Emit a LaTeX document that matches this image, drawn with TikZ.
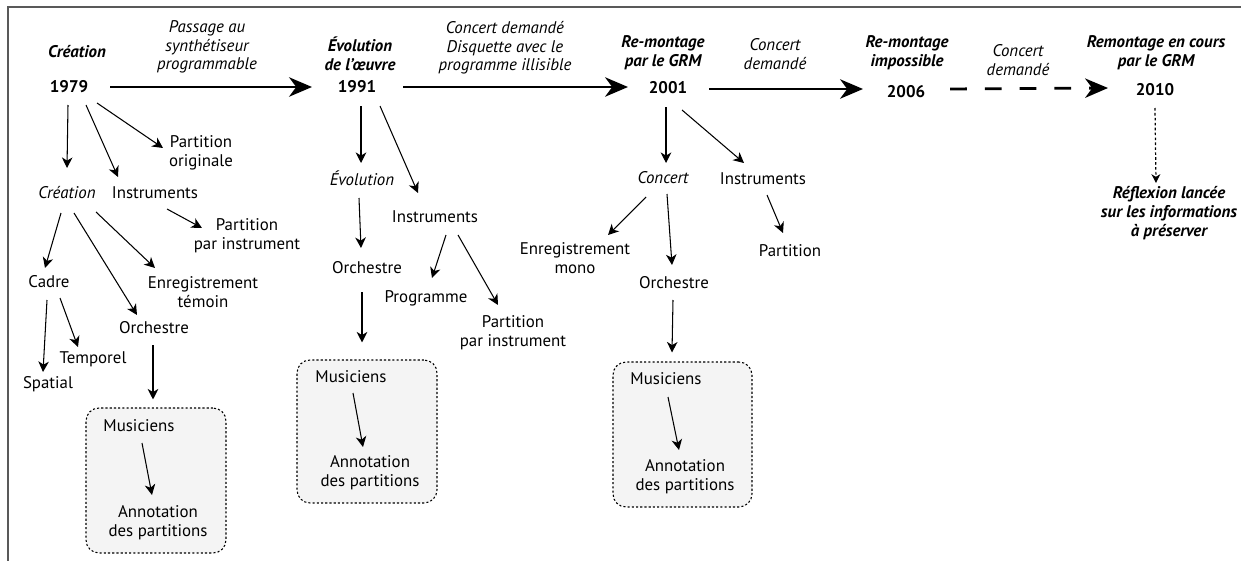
\documentclass[tikz,border=0pt]{standalone}
\usepackage{fontspec}
\setmainfont{PT Sans}
\usetikzlibrary{arrows.meta,calc,positioning}

\begin{document}
\begin{tikzpicture}[x=0.02cm, y=-0.02cm,
    txt/.style={align=center, inner sep=0pt, font=\fontsize{9.6}{11}\selectfont},
    annee/.style={txt, font=\fontsize{9.6}{11}\selectfont\bfseries},
    titre/.style={txt, font=\fontsize{9.6}{10.6}\selectfont\bfseries\itshape},
    etiq/.style={txt, font=\fontsize{9.6}{10.6}\selectfont\itshape},
    fleche/.style={-{Stealth[length=6pt,width=6pt,inset=1.8pt]}, line width=0.6pt},
    grosse fleche/.style={-{Stealth[length=13pt,width=11pt,inset=4pt]}, line width=1.6pt},
    tirets/.style={grosse fleche, dash pattern=on 9.6pt off 10.2pt},
    pointilles/.style={-{Stealth[length=5pt,width=5pt,inset=1.5pt]}, line width=0.7pt, dash pattern=on 1.5pt off 1.3pt},
    groupe/.style={draw, fill=gray!9, rounded corners=0.26cm, line width=0.6pt, dash pattern=on 1.2pt off 1.2pt, inner sep=0pt}]
    \useasboundingbox (0,0) rectangle (1241,561);
    \draw[black!65, line width=1pt] (8,561) |- (1241,7);

    % frise
    \node[titre] (tCre) at (77,52) {Création};
    \node[annee] (y1979) at (69,87) {1979};
    \node[etiq] (lPass) at (207,47) {Passage au\\synthétiseur\\programmable};
    \node[titre] (tEvo) at (360,54) {Évolution\\de l'œuvre};
    \node[annee] (y1991) at (357,87) {1991};
    \node[etiq] (lDisq) at (505,48) {Concert demandé\\Disquette avec le\\programme illisible};
    \node[titre] (tGrm) at (663,53) {Re-montage\\par le GRM};
    \node[annee] (y2001) at (668,88) {2001};
    \node[etiq] (lConcA) at (775,54) {Concert\\demandé};
    \node[titre] (tImp) at (907,53) {Re-montage\\impossible};
    \node[annee] (y2006) at (906,92) {2006};
    \node[etiq] (lConcB) at (1018,60) {Concert\\demandé};
    \node[titre] (tCours) at (1156,53) {Remontage en cours\\par le GRM};
    \node[annee] (y2010) at (1155,90) {2010};
    \node[titre] (refl) at (1169,213) {Réflexion lancée\\sur les informations\\à préserver};

    \draw[grosse fleche] ($(y1979)+(41,0)$) -- ($(y1991)+(-45,0)$);
    \draw[grosse fleche] ($(y1991)+(46,0)$) -- ($(y2001)+(-40,-1)$);
    \draw[grosse fleche] ($(y2001)+(41,1)$) -- ($(y2006)+(-43,-3)$);
    \draw[tirets] ($(y2006)+(44,-3)$) -- ($(y2010)+(-47,-2)$);
    \draw[pointilles] ($(y2010)+(0,18)$) -- ($(refl)+(-13,-30)$);

    % 1979
    \node[groupe, minimum width=2.8cm, minimum height=2.9cm] (box1) at (156,480.5) {};
    \node[etiq] (cre2) at (67,193) {Création};
    \node[txt] (inst1) at (155,193) {Instruments};
    \node[txt] (part1) at (201,153) {Partition\\originale};
    \node[txt] (part2) at (247,236) {Partition\\par instrument};
    \node[txt] (cadre) at (49,282) {Cadre};
    \node[txt] (orch1) at (154,328) {Orchestre};
    \node[txt] (enr1) at (203,292) {Enregistrement\\témoin};
    \node[txt] (spatial) at (48,384) {Spatial};
    \node[txt] (temporel) at (93,359) {Temporel};
    \node[txt] (mus1) at (139,426) {Musiciens};
    \node[txt] (ann1) at (158,523) {Annotation\\des partitions};

    \draw[fleche] ($(y1979)+(-1,18)$) -- ($(cre2)+(0,-25)$);
    \draw[fleche] ($(y1979)+(17,18)$) -- ($(inst1)+(-37,-16)$);
    \draw[fleche] ($(y1979)+(28,16)$) -- ($(part1)+(-38,-5)$);
    \draw[fleche] ($(inst1)+(12,16)$) -- ($(part2)+(-45,-8)$);
    \draw[fleche] ($(cre2)+(-6,20)$) -- ($(cadre)+(-4,-14)$);
    \draw[fleche] ($(cre2)+(7,20)$) -- ($(orch1)+(-17,-13)$);
    \draw[fleche] ($(cre2)+(29,19)$) -- ($(enr1)+(-48,-24)$);
    \draw[fleche] ($(cadre)+(-2,18)$) -- ($(spatial)+(-5,-12)$);
    \draw[fleche] ($(cadre)+(11,16)$) -- ($(temporel)+(-15,-12)$);
    \draw[fleche] ($(orch1)+(-1,17)$) -- ($(box1.north)+(-3,-8)$);
    \draw[fleche] ($(mus1)+(3,17)$) -- ($(ann1)+(-6,-28)$);

    % 1991
    \node[groupe, minimum width=2.8cm, minimum height=2.86cm] (box2) at (367,431.5) {};
    \node[etiq] (evo2) at (362,178) {Évolution};
    \node[txt] (inst2) at (435,217) {Instruments};
    \node[txt] (orch2) at (367,268) {Orchestre};
    \node[txt] (prog) at (426,298) {Programme};
    \node[txt] (part3) at (513,333) {Partition\\par instrument};
    \node[txt] (mus2) at (351,377) {Musiciens};
    \node[txt] (ann2) at (370,473) {Annotation\\des partitions};

    \draw[fleche] ($(y1991)+(4,19)$) -- ($(evo2)+(-1,-15)$);
    \draw[fleche] ($(y1991)+(23,19)$) -- ($(inst2)+(-17,-24)$);
    \draw[fleche] ($(evo2)+(-3,20)$) -- ($(orch2)+(-6,-20)$);
    \draw[fleche] ($(orch2)+(-5,24)$) -- ($(box2.north)+(-5,-17)$);
    \draw[fleche] ($(inst2)+(11,18)$) -- ($(prog)+(6,-20)$);
    \draw[fleche] ($(inst2)+(23,18)$) -- ($(part3)+(-15,-28)$);
    \draw[fleche] ($(mus2)+(2,16)$) -- ($(ann2)+(-7,-26)$);

    % 2001
    \node[groupe, minimum width=2.78cm, minimum height=2.9cm] (box3) at (682.5,434.5) {};
    \node[etiq] (conc) at (663,178) {Concert};
    \node[txt] (inst3) at (763,179) {Instruments};
    \node[txt] (part4) at (790,251) {Partition};
    \node[txt] (enr2) at (575,258) {Enregistrement\\mono};
    \node[txt] (orch3) at (674,283) {Orchestre};
    \node[txt] (mus3) at (666,379) {Musiciens};
    \node[txt] (ann3) at (685,477) {Annotation\\des partitions};

    \draw[fleche] ($(y2001)+(-2,19)$) -- ($(conc)+(3,-15)$);
    \draw[fleche] ($(y2001)+(14,22)$) -- ($(inst3)+(-19,-16)$);
    \draw[fleche] ($(inst3)+(4,16)$) -- ($(part4)+(-7,-18)$);
    \draw[fleche] ($(conc)+(-17,19)$) -- ($(enr2)+(33,-23)$);
    \draw[fleche] ($(conc)+(4,16)$) -- ($(orch3)+(-2,-18)$);
    \draw[fleche] ($(orch3)+(-1,17)$) -- ($(box3.north)+(-10.5,-9)$);
    \draw[fleche] ($(mus3)+(2,18)$) -- ($(ann3)+(-6,-27)$);
\end{tikzpicture}
\end{document}
